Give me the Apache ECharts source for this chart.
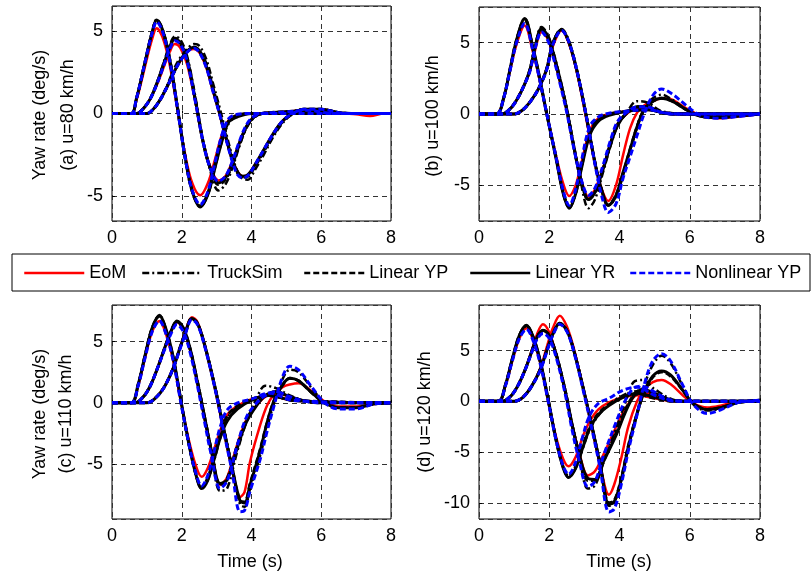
<!DOCTYPE html>
<html><head><meta charset="utf-8">
<script src="https://cdn.jsdelivr.net/npm/echarts@6/dist/echarts.min.js"></script>
<style>html,body{margin:0;padding:0;background:#fff}#c{width:812px;height:576px}</style>
</head><body><div id="c"></div>
<script>
// ---------- labels ----------
const SERIES_NAMES = ['EoM', 'TruckSim', 'Linear YP', 'Linear YR', 'Nonlinear YP'];
const X_TICKS = [0, 2, 4, 6, 8];
const PANEL_LABELS = ['(a) u=80 km/h', '(b) u=100 km/h', '(c) u=110 km/h', '(d) u=120 km/h'];
const Y_TITLE = 'Yaw rate (deg/s)';
const X_TITLE = 'Time (s)';

// ---------- panel (a) u=80 ----------
const A1_t    = [0,0.55,0.7,0.85,1.0,1.15,1.28,1.45,1.65,1.88,2.1,2.3,2.53,2.75,2.95,3.15,3.35,3.6,4.0,8];
const A1_eom  = [0,0,0.8,2.0,3.3,4.5,5.15,4.6,3.0,0.2,-2.5,-4.2,-4.95,-4.2,-2.8,-1.3,-0.4,-0.1,0,0];
const A1_trk  = [0,0,0.9,2.2,3.6,4.9,5.7,5.1,3.4,0.4,-2.6,-4.6,-5.65,-4.9,-3.3,-1.7,-0.6,-0.15,0,0];
const A1_lyp  = [0,0,0.9,2.2,3.6,4.9,5.6,5.0,3.3,0.3,-2.7,-4.7,-5.6,-4.8,-3.1,-1.5,-0.45,-0.1,0,0];
const A1_lyr  = [0,0,0.9,2.2,3.6,4.9,5.65,5.05,3.35,0.3,-2.7,-4.7,-5.65,-4.9,-3.3,-1.7,-0.5,-0.2,0,0];
const A1_nlyp = [0,0,0.9,2.2,3.6,4.85,5.55,4.95,3.25,0.25,-2.7,-4.65,-5.5,-4.7,-3.0,-1.3,-0.3,-0.05,0,0];

const A2_t    = [0,0.7,0.9,1.1,1.3,1.5,1.65,1.8,1.95,2.15,2.4,2.6,2.8,3.05,3.25,3.45,3.65,3.85,4.05,4.3,5.0,5.6,6.3,8];
const A2_eom  = [0,0,0.3,0.9,1.8,2.9,3.7,4.2,4.0,3.0,0.6,-1.6,-3.1,-4.05,-3.8,-2.9,-1.8,-0.8,-0.25,0,0.1,0.2,0,0];
const A2_trk  = [0,0,0.3,0.9,1.9,3.2,4.1,4.65,4.5,3.5,0.9,-1.5,-3.3,-4.65,-4.3,-3.3,-2.0,-0.9,-0.3,0,0.1,0.2,0,0];
const A2_lyp  = [0,0,0.3,0.9,1.9,3.1,3.95,4.55,4.35,3.3,0.7,-1.6,-3.2,-4.3,-4.0,-3.1,-1.9,-0.85,-0.25,0,0.1,0.2,0,0];
const A2_lyr  = [0,0,0.3,0.9,1.9,3.1,3.95,4.5,4.3,3.3,0.7,-1.6,-3.2,-4.2,-3.9,-3.0,-1.8,-0.8,-0.25,0,0.1,0.2,0,0];
const A2_nlyp = [0,0,0.3,0.9,1.85,3.0,3.85,4.4,4.2,3.2,0.6,-1.6,-3.2,-4.1,-3.8,-2.9,-1.7,-0.7,-0.2,0,0.1,0.2,0,0];

const A3_t    = [0,1.0,1.2,1.4,1.6,1.8,2.0,2.2,2.35,2.5,2.7,2.9,3.08,3.25,3.45,3.6,3.75,3.9,4.1,4.35,4.6,4.85,5.1,5.5,6.0,6.5,7.0,7.4,7.8,8];
const A3_eom  = [0,0,0.3,0.9,1.7,2.6,3.3,3.8,3.9,3.7,2.8,1.3,0,-1.4,-2.8,-3.5,-3.8,-3.7,-3.1,-2.2,-1.3,-0.55,-0.1,0.25,0.25,0.05,-0.05,-0.15,0,0];
const A3_trk  = [0,0,0.3,0.9,1.8,2.8,3.5,4.0,4.2,4.1,3.3,1.8,0.4,-1.0,-2.6,-3.5,-3.95,-4.0,-3.4,-2.5,-1.5,-0.7,-0.15,0.25,0.25,0.05,0,0,0,0];
const A3_lyp  = [0,0,0.3,0.9,1.7,2.6,3.35,3.85,4.0,3.8,3.0,1.5,0.1,-1.3,-2.8,-3.6,-3.85,-3.8,-3.2,-2.3,-1.4,-0.6,-0.1,0.25,0.25,0.05,0,0,0,0];
const A3_lyr  = [0,0,0.3,0.9,1.7,2.6,3.35,3.85,4.0,3.8,2.9,1.4,0.05,-1.3,-2.8,-3.55,-3.8,-3.7,-3.1,-2.2,-1.3,-0.55,-0.1,0.25,0.25,0.05,0,0,0,0];
const A3_nlyp = [0,0,0.3,0.9,1.7,2.6,3.3,3.8,3.95,3.7,2.8,1.3,0,-1.4,-2.9,-3.7,-3.9,-3.75,-3.1,-2.2,-1.3,-0.55,-0.1,0.25,0.25,0.05,0,0,0,0];

// ---------- panel (b) u=100 ----------
const B1_t    = [0,0.5,0.7,0.88,1.07,1.3,1.54,1.68,1.93,2.2,2.4,2.57,2.75,2.9,3.15,3.4,3.7,4.2,4.8,5.5,8];
const B1_eom  = [0,0,1.1,3.0,4.9,6.2,4.3,2.9,0,-3.0,-4.9,-5.75,-5.0,-3.6,-1.2,-0.3,0,0.2,0.3,0,0];
const B1_trk  = [0,0,1.1,3.1,5.2,6.7,4.6,3.1,0,-3.2,-5.6,-6.6,-5.6,-4.0,-1.4,-0.4,0,0.2,0.3,0,0];
const B1_lyp  = [0,0,1.1,3.1,5.2,6.6,4.5,3.0,0,-3.1,-5.5,-6.5,-5.5,-3.8,-1.2,-0.3,0,0.2,0.3,0,0];
const B1_lyr  = [0,0,1.1,3.1,5.2,6.7,4.6,3.1,0,-3.2,-5.6,-6.6,-5.6,-4.0,-1.5,-0.5,-0.1,0.2,0.3,0,0];
const B1_nlyp = [0,0,1.1,3.0,5.0,6.35,4.4,2.95,0,-3.1,-5.4,-6.4,-5.3,-3.5,-0.9,-0.2,0.05,0.2,0.3,0,0];

const B2_t    = [0,0.65,0.9,1.1,1.3,1.45,1.6,1.78,1.95,2.1,2.3,2.5,2.7,2.9,3.12,3.3,3.53,3.75,3.95,4.2,4.5,4.8,5.2,6.0,8];
const B2_eom  = [0,0,0.4,1.1,2.1,3.0,4.5,5.75,5.3,4.2,2.3,0.2,-2.3,-4.5,-5.8,-5.3,-3.8,-2.0,-0.7,0,0.4,0.4,0.1,0,0];
const B2_trk  = [0,0,0.4,1.1,2.1,3.1,4.8,6.1,5.6,4.5,2.6,0.4,-2.2,-4.8,-6.6,-6.0,-4.1,-2.2,-0.8,0.1,0.9,0.8,0.2,0,0];
const B2_lyp  = [0,0,0.4,1.1,2.1,3.1,4.7,5.9,5.4,4.3,2.4,0.3,-2.3,-4.6,-6.0,-5.5,-3.9,-2.0,-0.7,0.05,0.5,0.5,0.1,0,0];
const B2_lyr  = [0,0,0.4,1.1,2.1,3.1,4.7,6.0,5.5,4.4,2.5,0.3,-2.3,-4.6,-6.0,-5.5,-3.9,-2.1,-0.8,0.05,0.5,0.5,0.1,0,0];
const B2_nlyp = [0,0,0.4,1.1,2.1,3.0,4.6,5.75,5.2,4.1,2.2,0.1,-2.4,-4.5,-5.7,-5.2,-3.6,-1.8,-0.5,0.1,0.5,0.5,0.1,0,0];

const B3_t    = [0,1.0,1.25,1.5,1.7,1.92,2.11,2.35,2.55,2.78,3.05,3.3,3.5,3.68,3.9,4.1,4.3,4.5,4.7,4.95,5.2,5.5,5.9,6.3,6.8,7.3,8];
const B3_eom  = [0,0,0.3,1.0,1.8,3.1,4.8,5.85,5.0,3.0,-0.3,-3.5,-5.3,-6.1,-5.0,-2.9,-1.0,0.1,0.6,0.9,1.1,1.0,0.4,-0.1,-0.3,-0.2,0];
const B3_trk  = [0,0,0.3,1.0,1.8,3.1,5.0,5.95,5.2,3.2,0,-3.3,-5.4,-6.4,-5.8,-4.3,-2.6,-0.9,0.4,1.1,1.35,1.0,0.3,-0.15,-0.25,-0.15,0];
const B3_lyp  = [0,0,0.3,1.0,1.8,3.1,5.0,5.9,5.1,3.1,-0.1,-3.4,-5.4,-6.4,-5.7,-4.2,-2.5,-0.9,0.3,0.9,1.1,0.9,0.3,-0.15,-0.25,-0.15,0];
const B3_lyr  = [0,0,0.3,1.0,1.8,3.1,5.0,5.92,5.1,3.1,-0.1,-3.4,-5.4,-6.4,-5.7,-4.1,-2.5,-0.9,0.3,0.9,1.1,0.9,0.3,-0.15,-0.25,-0.15,0];
const B3_nlyp = [0,0,0.3,1.0,1.8,3.05,4.9,5.85,5.1,3.1,-0.1,-3.5,-5.8,-6.9,-6.3,-4.5,-3.0,-1.5,0,1.3,1.75,1.4,0.6,-0.1,-0.3,-0.2,0];

// ---------- panel (c) u=110 ----------
const C1_t    = [0,0.55,0.75,0.95,1.15,1.36,1.55,1.75,1.97,2.2,2.4,2.57,2.75,2.95,3.1,3.3,3.6,4.0,4.5,5.2,8];
const C1_eom  = [0,0,1.4,3.7,5.8,6.7,5.6,3.5,0.2,-3.0,-5.1,-6.05,-5.3,-3.6,-2.3,-1.0,-0.25,0.3,0.6,0.2,0];
const C1_trk  = [0,0,1.5,3.9,6.1,7.15,6.0,3.8,0.3,-3.3,-5.8,-7.0,-6.3,-4.5,-2.9,-1.3,-0.3,0.3,0.6,0.2,0];
const C1_lyp  = [0,0,1.5,3.9,6.1,7.1,5.9,3.7,0.2,-3.3,-5.8,-6.9,-6.1,-4.2,-2.6,-1.1,-0.25,0.3,0.6,0.2,0];
const C1_lyr  = [0,0,1.5,3.9,6.1,7.17,6.0,3.8,0.3,-3.3,-5.8,-7.0,-6.3,-4.4,-2.9,-1.5,-0.5,0.2,0.6,0.2,0];
const C1_nlyp = [0,0,1.4,3.7,5.8,6.7,5.6,3.5,0.1,-3.3,-5.7,-6.8,-5.9,-3.7,-2.0,-0.6,0,0.3,0.8,0.2,0];

const C2_t    = [0,0.65,0.9,1.1,1.3,1.5,1.7,1.86,2.05,2.25,2.45,2.65,2.85,3.1,3.3,3.58,3.85,4.15,4.4,4.7,5.1,5.6,6.2,8];
const C2_eom  = [0,0,0.5,1.4,2.8,4.4,5.9,6.6,6.0,4.2,1.6,-1.2,-3.9,-6.7,-6.1,-3.5,-1.4,-0.2,0.5,0.8,0.5,0.1,0,0];
const C2_trk  = [0,0,0.5,1.4,2.8,4.4,5.9,6.6,6.0,4.3,1.8,-1.0,-3.9,-7.2,-7.0,-4.1,-1.6,0.4,1.4,1.2,0.6,0.1,0,0];
const C2_lyp  = [0,0,0.5,1.4,2.8,4.4,5.9,6.65,6.05,4.3,1.7,-1.1,-3.9,-6.7,-6.2,-3.6,-1.4,-0.1,0.6,0.9,0.5,0.1,0,0];
const C2_lyr  = [0,0,0.5,1.4,2.8,4.4,5.9,6.7,6.1,4.3,1.7,-1.1,-3.9,-6.6,-6.3,-3.8,-1.6,-0.2,0.6,0.9,0.5,0.1,0,0];
const C2_nlyp = [0,0,0.5,1.4,2.8,4.3,5.7,6.4,5.8,4.0,1.4,-1.5,-4.3,-7.0,-6.4,-3.6,-1.2,0,0.6,0.9,0.5,0.1,0,0];

const C3_t    = [0,1.0,1.25,1.5,1.75,1.95,2.1,2.29,2.45,2.65,2.95,3.2,3.45,3.67,3.8,3.96,4.25,4.45,4.65,4.9,5.1,5.35,5.7,6.1,6.5,7.0,7.5,8];
const C3_eom  = [0,0,0.4,1.3,2.8,4.5,5.8,7.0,6.6,4.8,1.2,-2.3,-5.5,-7.7,-7.3,-4.8,-1.8,-0.2,0.7,1.3,1.5,1.6,1.0,0.1,-0.3,-0.3,-0.1,0];
const C3_trk  = [0,0,0.4,1.3,2.8,4.5,5.7,6.9,6.5,4.8,1.4,-2.0,-5.3,-8.3,-8.5,-7.0,-4.3,-2.0,0,2.0,2.7,2.5,1.3,0,-0.4,-0.4,-0.1,0];
const C3_lyp  = [0,0,0.4,1.3,2.8,4.5,5.7,6.9,6.5,4.8,1.3,-2.1,-5.4,-8.0,-8.1,-6.6,-3.8,-1.6,0.2,1.5,2.0,1.8,0.9,0,-0.4,-0.4,-0.1,0];
const C3_lyr  = [0,0,0.4,1.3,2.8,4.5,5.7,6.9,6.5,4.8,1.3,-2.1,-5.4,-8.0,-8.2,-6.7,-3.9,-1.6,0.2,1.5,2.0,1.8,0.9,0,-0.4,-0.4,-0.1,0];
const C3_nlyp = [0,0,0.4,1.3,2.8,4.4,5.6,6.8,6.4,4.7,1.2,-2.3,-5.7,-8.9,-8.8,-7.2,-4.6,-2.3,-0.2,2.2,3.0,2.7,1.4,0,-0.5,-0.5,-0.1,0];

// ---------- panel (d) u=120 ----------
const D1_t    = [0,0.55,0.75,0.95,1.15,1.35,1.55,1.75,1.97,2.2,2.4,2.55,2.75,2.95,3.15,3.4,3.7,4.1,4.5,5.0,5.6,8];
const D1_eom  = [0,0,1.5,4.0,6.2,7.2,6.0,3.7,0,-3.6,-5.7,-6.4,-5.5,-3.5,-2.0,-0.8,-0.1,0.4,0.6,0.3,0,0];
const D1_trk  = [0,0,1.6,4.2,6.5,7.5,6.3,3.9,0.2,-3.8,-6.5,-7.5,-6.6,-4.7,-2.8,-1.4,-0.3,0.6,1.0,0.5,0,0];
const D1_lyp  = [0,0,1.6,4.2,6.5,7.45,6.2,3.8,0.1,-3.9,-6.5,-7.4,-6.4,-4.4,-2.6,-1.2,-0.3,0.4,0.7,0.3,0,0];
const D1_lyr  = [0,0,1.6,4.2,6.5,7.5,6.3,3.9,0.2,-3.9,-6.6,-7.5,-6.6,-4.6,-2.7,-1.3,-0.4,0.4,0.8,0.4,0,0];
const D1_nlyp = [0,0,1.5,4.0,6.2,7.1,5.9,3.6,0,-3.9,-6.4,-7.2,-6.0,-3.5,-1.4,-0.2,0.3,1.1,1.4,0.6,0,0];

const D2_t    = [0,0.65,0.9,1.1,1.3,1.5,1.65,1.82,2.0,2.2,2.45,2.65,2.85,3.1,3.3,3.55,3.92,4.15,4.4,4.65,5.0,5.5,6.0,8];
const D2_eom  = [0,0,0.5,1.5,3.0,5.0,6.6,7.6,6.8,4.6,1.0,-2.3,-5.0,-7.3,-6.9,-5.2,-2.4,-0.8,0.4,0.9,0.6,0.1,0,0];
const D2_trk  = [0,0,0.5,1.5,3.0,4.9,6.3,7.0,6.5,4.6,1.2,-2.2,-5.2,-8.6,-8.3,-6.0,-2.5,-0.3,1.9,2.1,1.2,0.2,0,0];
const D2_lyp  = [0,0,0.5,1.5,3.0,4.9,6.3,7.0,6.5,4.6,1.1,-2.3,-5.2,-7.8,-7.8,-5.8,-3.0,-1.0,0.6,1.2,0.8,0.1,0,0];
const D2_lyr  = [0,0,0.5,1.5,3.0,4.9,6.3,7.0,6.5,4.6,1.1,-2.3,-5.2,-7.6,-7.7,-5.9,-3.2,-1.2,0.5,1.2,0.8,0.1,0,0];
const D2_nlyp = [0,0,0.5,1.5,3.0,4.8,6.1,6.7,6.2,4.3,0.8,-2.8,-5.8,-8.4,-7.9,-5.3,-1.9,0,1.3,1.5,0.9,0.1,0,0];

const D3_t    = [0,1.0,1.25,1.5,1.75,1.95,2.1,2.3,2.5,2.7,3.0,3.25,3.45,3.7,3.85,4.05,4.25,4.5,4.7,4.95,5.2,5.45,5.8,6.1,6.5,6.9,7.4,8];
const D3_eom  = [0,0,0.4,1.5,3.3,5.6,7.2,8.45,7.4,5.2,0.8,-3.2,-6.3,-9.2,-8.2,-5.6,-2.5,0,1.2,1.9,2.1,1.7,0.6,-0.2,-0.6,-0.4,0,0];
const D3_trk  = [0,0,0.4,1.5,3.2,5.2,6.6,7.7,7.0,5.0,0.9,-3.0,-6.2,-10.3,-10.0,-7.8,-4.6,-1.2,1.5,3.6,4.5,3.8,1.5,-0.3,-0.9,-0.7,-0.1,0.1];
const D3_lyp  = [0,0,0.4,1.5,3.2,5.2,6.6,7.7,7.0,5.0,0.8,-3.0,-6.2,-10.0,-9.8,-7.6,-4.4,-1.2,0.9,2.4,2.9,2.5,1.1,-0.2,-0.8,-0.6,-0.1,0.1];
const D3_lyr  = [0,0,0.4,1.5,3.2,5.2,6.6,7.7,7.0,5.0,0.8,-3.0,-6.2,-10.1,-9.9,-7.7,-4.5,-1.2,0.9,2.5,3.0,2.6,1.1,-0.2,-0.8,-0.6,-0.1,0.1];
const D3_nlyp = [0,0,0.4,1.5,3.1,5.1,6.5,7.6,6.9,4.9,0.6,-3.3,-6.6,-10.9,-10.6,-8.2,-4.9,-1.3,1.6,4.0,4.7,4.0,1.6,-0.3,-1.2,-0.8,-0.1,0.1];

// ---------- assemble ----------
const PANELS = [
  [[A1_t, [A1_eom, A1_trk, A1_lyp, A1_lyr, A1_nlyp]], [A2_t, [A2_eom, A2_trk, A2_lyp, A2_lyr, A2_nlyp]], [A3_t, [A3_eom, A3_trk, A3_lyp, A3_lyr, A3_nlyp]]],
  [[B1_t, [B1_eom, B1_trk, B1_lyp, B1_lyr, B1_nlyp]], [B2_t, [B2_eom, B2_trk, B2_lyp, B2_lyr, B2_nlyp]], [B3_t, [B3_eom, B3_trk, B3_lyp, B3_lyr, B3_nlyp]]],
  [[C1_t, [C1_eom, C1_trk, C1_lyp, C1_lyr, C1_nlyp]], [C2_t, [C2_eom, C2_trk, C2_lyp, C2_lyr, C2_nlyp]], [C3_t, [C3_eom, C3_trk, C3_lyp, C3_lyr, C3_nlyp]]],
  [[D1_t, [D1_eom, D1_trk, D1_lyp, D1_lyr, D1_nlyp]], [D2_t, [D2_eom, D2_trk, D2_lyp, D2_lyr, D2_nlyp]], [D3_t, [D3_eom, D3_trk, D3_lyp, D3_lyr, D3_nlyp]]]
];
const Y_RANGES = [[-6.5, 6.5], [-7.5, 7.5], [-9.5, 8], [-11.6, 9.5]];

const errs = [];
PANELS.forEach((p, pi) => p.forEach(([t, vs], mi) => vs.forEach((v, si) => {
  if (v.length !== t.length) errs.push('panel ' + pi + ' m' + mi + ' s' + si + ': ' + v.length + ' vs ' + t.length);
})));
if (errs.length) throw new Error(errs.join('; '));

const FONT = 'Liberation Sans, Arial, Helvetica, sans-serif';
const STYLES = [
  { color: '#ff0000', width: 2.5, type: 'solid' },
  { color: '#000000', width: 2.5, type: [7, 3, 2, 3] },
  { color: '#000000', width: 3,   type: [6, 3] },
  { color: '#000000', width: 3,   type: 'solid' },
  { color: '#0000ff', width: 3,   type: [6, 3] }
];
const GRIDS = [
  { left: 112, top: 6,   width: 279, height: 215 },
  { left: 479, top: 7,   width: 281, height: 214 },
  { left: 112, top: 305, width: 279, height: 214 },
  { left: 479, top: 305, width: 281, height: 214 }
];

const series = [];
STYLES.forEach((st, si) => {
  PANELS.forEach((p, pi) => {
    p.forEach(([t, vs]) => {
      series.push({
        type: 'line', name: SERIES_NAMES[si], xAxisIndex: pi, yAxisIndex: pi,
        data: t.map((x, i) => [x, vs[si][i]]),
        showSymbol: false, symbol: 'none', smooth: 0.35,
        lineStyle: { color: st.color, width: st.width, type: st.type, join: 'round', cap: 'butt' },
        itemStyle: { color: st.color },
        emphasis: { disabled: true }, silent: true, z: 2 + si
      });
    });
  });
});

const splitStyle = { show: true, lineStyle: { color: '#333', width: 1, type: [5, 4] } };
const xAxes = GRIDS.map((g, i) => ({
  type: 'value', gridIndex: i, min: X_TICKS[0], max: X_TICKS[X_TICKS.length - 1], interval: X_TICKS[1] - X_TICKS[0],
  axisLine: { show: false }, axisTick: { show: true, inside: true, length: 3, lineStyle: { color: '#000' } },
  axisLabel: { fontSize: 18, color: '#000', margin: 8, fontFamily: FONT },
  splitLine: splitStyle
}));
const yAxes = GRIDS.map((g, i) => ({
  type: 'value', gridIndex: i, min: Y_RANGES[i][0], max: Y_RANGES[i][1], minInterval: 5, maxInterval: 5,
  axisLine: { show: false }, axisTick: { show: true, inside: true, length: 3, lineStyle: { color: '#000' } },
  axisLabel: { fontSize: 18, color: '#000', margin: 9, fontFamily: FONT, showMinLabel: false, showMaxLabel: false },
  splitLine: splitStyle
}));

const LEGEND_LEFT = [23, 141, 303, 469, 629];
const legends = SERIES_NAMES.map((n, i) => ({
  data: [n], left: LEGEND_LEFT[i], top: 264, orient: 'horizontal', padding: 0,
  itemWidth: 60, itemHeight: 14, itemGap: 0, selectedMode: false,
  itemStyle: { color: 'rgba(0,0,0,0)', borderColor: 'rgba(0,0,0,0)', borderWidth: 0, opacity: 0 },
  lineStyle: { width: 2.5 },
  textStyle: { fontSize: 18, color: '#000', fontFamily: FONT }
}));

function vtext(x, y, s) {
  return { type: 'text', x: x, y: y, rotation: Math.PI / 2, silent: true,
    style: { text: s, fontSize: 18, fill: '#000', font: '18px ' + FONT, align: 'center', verticalAlign: 'middle' } };
}
function htext(x, y, s) {
  return { type: 'text', x: x, y: y, silent: true,
    style: { text: s, fontSize: 18, fill: '#000', font: '18px ' + FONT, align: 'center', verticalAlign: 'middle' } };
}

const graphic = [
  { type: 'rect', shape: { x: 12, y: 254, width: 798, height: 37 }, style: { fill: '#fff', stroke: '#000', lineWidth: 1 }, z: -1, silent: true },
  vtext(40, 115, Y_TITLE), vtext(68, 115, PANEL_LABELS[0]),
  vtext(433, 116, PANEL_LABELS[1]),
  vtext(40, 414, Y_TITLE), vtext(66, 414, PANEL_LABELS[2]),
  vtext(425, 412, PANEL_LABELS[3]),
  htext(250, 562, X_TITLE), htext(619, 562, X_TITLE)
];

const chart = echarts.init(document.getElementById('c'), null, { renderer: 'canvas' });
chart.setOption({
  animation: false,
  backgroundColor: '#fff',
  grid: GRIDS.map(g => Object.assign({ show: true, borderColor: '#000', borderWidth: 1, backgroundColor: 'transparent', containLabel: false, outerBoundsMode: 'none' }, g)),
  xAxis: xAxes, yAxis: yAxes,
  legend: legends,
  graphic: graphic,
  series: series
});
</script></body></html>
